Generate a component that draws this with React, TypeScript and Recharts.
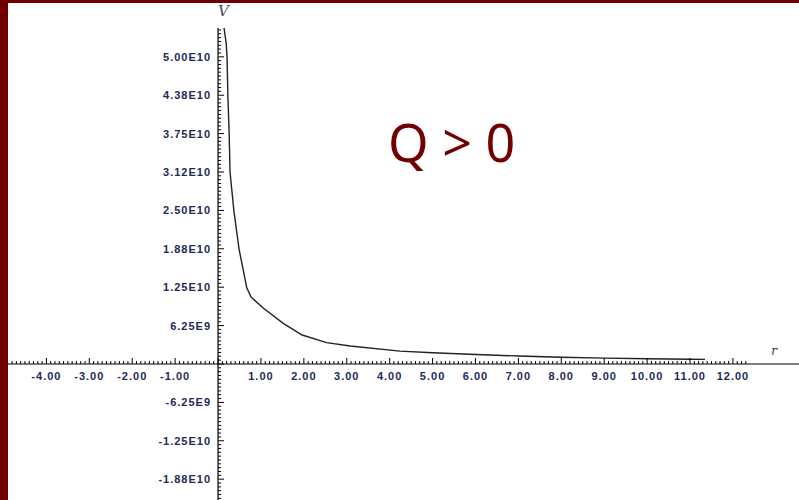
import React from "react";
import { ComposedChart, Line, Scatter, XAxis, YAxis, ReferenceLine } from "recharts";

// curve (r, V)
const rValues = [0.14, 0.19, 0.21, 0.23, 0.26, 0.28, 0.37, 0.49, 0.67, 0.77, 1.06, 1.52, 1.96, 2.53, 3.08, 4.24, 5.0, 6.0, 7.0, 8.0, 9.0, 10.0, 11.0, 11.35];
const vValues = [54.7e9, 52.2e9, 50e9, 43.5e9, 37.4e9, 31.2e9, 24.9e9, 18.7e9, 12.4e9, 10.9e9, 9.06e9, 6.62e9, 4.72e9, 3.47e9, 2.93e9, 2.1e9, 1.84e9, 1.55e9, 1.3e9, 1.1e9, 0.95e9, 0.85e9, 0.78e9, 0.75e9];

const xTickValues = [-4, -3, -2, -1, 1, 2, 3, 4, 5, 6, 7, 8, 9, 10, 11, 12];
const xTickLabels = ["-4.00", "-3.00", "-2.00", "-1.00", "1.00", "2.00", "3.00", "4.00", "5.00", "6.00", "7.00", "8.00", "9.00", "10.00", "11.00", "12.00"];
const yTickValues = [5e10, 4.375e10, 3.75e10, 3.125e10, 2.5e10, 1.875e10, 1.25e10, 6.25e9, -6.25e9, -1.25e10, -1.875e10];
const yTickLabels = ["5.00E10", "4.38E10", "3.75E10", "3.12E10", "2.50E10", "1.88E10", "1.25E10", "6.25E9", "-6.25E9", "-1.25E10", "-1.88E10"];

const X_DOMAIN: [number, number] = [-4.895, 13.54];
const Y_DOMAIN: [number, number] = [-2.214e10, 5.469e10];

const curve = rValues.map((r, i) => ({ x: r, v: vValues[i] }));
const xLabels = xTickValues.map((x, i) => ({ x, y: 0, label: xTickLabels[i] }));
const yLabels = yTickValues.map((y, i) => ({ x: 0, y, label: yTickLabels[i] }));

// minor ticks every tenth of a unit along the axes
const xTicks: { x: number; y: number; major: boolean }[] = [];
for (let i = -48; i <= 123; i++) xTicks.push({ x: i / 10, y: 0, major: i % 10 === 0 });
const yTicks: { x: number; y: number; major: boolean }[] = [];
for (let i = -35; i <= 87; i++) yTicks.push({ x: 0, y: i * 6.25e8, major: i % 10 === 0 });

const labelColor = "#222a55";

const XTickShape = (p: any) => (
  <line x1={p.cx} x2={p.cx} y1={p.cy} y2={p.cy - (p.payload.major ? 6 : 3)} stroke="#000" strokeWidth={1} />
);
const YTickShape = (p: any) => (
  <line x1={p.cx} x2={p.cx + (p.payload.major ? 6 : 3)} y1={p.cy} y2={p.cy} stroke="#000" strokeWidth={1} />
);
const XLabelShape = (p: any) => (
  <text x={p.cx} y={p.cy + 16} textAnchor="middle" fontFamily="Liberation Sans, Arial, sans-serif" fontWeight="bold" fontSize={11} letterSpacing={1} fill={labelColor}>
    {p.payload.label}
  </text>
);
const YLabelShape = (p: any) => (
  <text x={p.cx - 7} y={p.cy + 4} textAnchor="end" fontFamily="Liberation Sans, Arial, sans-serif" fontWeight="bold" fontSize={11} letterSpacing={1} fill={labelColor}>
    {p.payload.label}
  </text>
);

export default function App() {
  return (
    <div style={{ position: "absolute", left: 0, top: 0, width: 799, height: 500, background: "#fff", overflow: "hidden" }}>
      <ComposedChart width={799} height={500} margin={{ top: 28, right: 0, bottom: 0, left: 8 }}>
        <XAxis type="number" dataKey="x" domain={X_DOMAIN} allowDataOverflow hide />
        <YAxis type="number" domain={Y_DOMAIN} allowDataOverflow hide />
        <ReferenceLine x={0} stroke="#000" strokeWidth={1.2} />
        <ReferenceLine y={0} stroke="#000" strokeWidth={1} segment={[{ x: X_DOMAIN[0], y: 0 }, { x: X_DOMAIN[1], y: 0 }]} />
        <Scatter data={xTicks} dataKey="y" shape={XTickShape} isAnimationActive={false} />
        <Scatter data={yTicks} dataKey="y" shape={YTickShape} isAnimationActive={false} />
        <Scatter data={xLabels} dataKey="y" shape={XLabelShape} isAnimationActive={false} />
        <Scatter data={yLabels} dataKey="y" shape={YLabelShape} isAnimationActive={false} />
        <Line data={curve} dataKey="v" type="linear" stroke="#222" strokeWidth={1.4} dot={false} isAnimationActive={false} />
      </ComposedChart>
      <div style={{ position: "absolute", left: 218, top: 2, fontFamily: "DejaVu Serif, serif", fontStyle: "italic", fontSize: 15, color: "#4a4a66" }}>V</div>
      <div style={{ position: "absolute", left: 771, top: 343, fontFamily: "DejaVu Serif, serif", fontStyle: "italic", fontSize: 13, color: "#4a4a66" }}>r</div>
      <div style={{ position: "absolute", left: 388, top: 112, fontFamily: "Noto Sans, sans-serif", fontSize: 52, lineHeight: "60px", color: "#720000" }}>Q &gt; 0</div>
      <div style={{ position: "absolute", left: 0, top: 0, width: 8, height: 500, background: "#700000" }} />
      <div style={{ position: "absolute", left: 0, top: 0, width: 799, height: 3, background: "#700000" }} />
    </div>
  );
}
